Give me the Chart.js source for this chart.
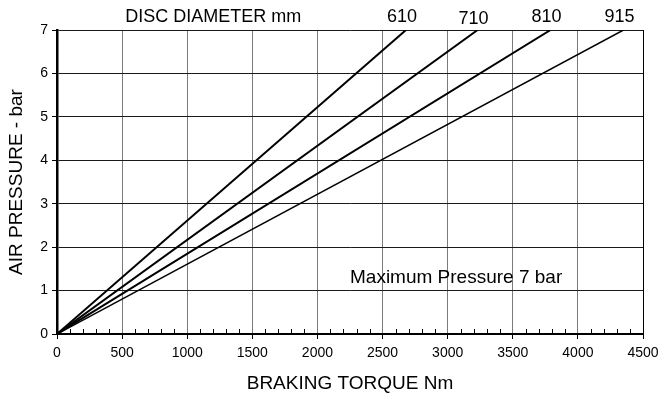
<!DOCTYPE html>
<html>
<head>
<meta charset="utf-8">
<title>Air pressure vs braking torque</title>
<script src="https://cdn.jsdelivr.net/npm/chart.js@4.4.1/dist/chart.umd.min.js"></script>
<style>
  body { margin: 0; background: #fff; }
  canvas { display: block; }
</style>
</head>
<body>
<canvas id="torque-chart" width="669" height="399"></canvas>
<script>
// --- Data ---
// each disc runs in a straight line from 0 to the torque it gives at 7 bar
const discDiameters = ['610', '710', '810', '915'];
const torqueAtMaxPressure = [2680, 3230, 3790, 4350];
const pressureRange = [0, 7];
const torqueTicks = [0, 500, 1000, 1500, 2000, 2500, 3000, 3500, 4000, 4500];
const pressureTicks = [0, 1, 2, 3, 4, 5, 6, 7];

// styles kept apart from the data
const lineWidths = [2, 2, 2, 1.5];
const FONT = 'Liberation Sans, Arial, Helvetica, sans-serif';

const datasets = discDiameters.map((d, i) => ({
  label: d,
  data: [
    { x: 0, y: pressureRange[0] },
    { x: torqueAtMaxPressure[i], y: pressureRange[1] }
  ],
  borderColor: '#000',
  borderWidth: lineWidths[i],
  pointRadius: 0,
  showLine: true,
  fill: false
}));

// little upward ticks every 100 Nm along the bottom axis
const minorTicks = {
  id: 'minorTicks',
  afterDraw(chart) {
    const { ctx, scales: { x }, chartArea } = chart;
    ctx.save();
    ctx.strokeStyle = '#000';
    ctx.lineWidth = 1;
    for (let v = x.min; v <= x.max; v += 100) {
      if (v % 500 === 0) continue;
      const px = Math.round(x.getPixelForValue(v)) + 0.5;
      ctx.beginPath();
      ctx.moveTo(px, chartArea.bottom);
      ctx.lineTo(px, chartArea.bottom - 5);
      ctx.stroke();
    }
    ctx.restore();
  }
};

// header, diameter labels and the max pressure note
const chartText = {
  id: 'chartText',
  afterDraw(chart) {
    const { ctx, scales: { x, y }, chartArea } = chart;
    ctx.save();
    ctx.fillStyle = '#000';
    ctx.textBaseline = 'middle';
    ctx.font = '18px ' + FONT;
    const headY = chartArea.top - 13;
    ctx.textAlign = 'center';
    ctx.fillText('DISC DIAMETER mm', x.getPixelForValue(1200), headY);
    discDiameters.forEach((d, i) => {
      const px = x.getPixelForValue(torqueAtMaxPressure[i]) - 4;
      ctx.fillText(d, px, headY + (i === 1 ? 2 : 0));
    });
    ctx.textAlign = 'left';
    ctx.font = '19px ' + FONT;
    ctx.fillText('Maximum Pressure 7 bar', x.getPixelForValue(2250), y.getPixelForValue(1.3));
    ctx.restore();
  }
};

new Chart(document.getElementById('torque-chart'), {
  type: 'scatter',
  data: { datasets },
  options: {
    responsive: false,
    animation: false,
    layout: { padding: { top: 30, right: 26, left: 0, bottom: 0 } },
    plugins: {
      legend: { display: false },
      tooltip: { enabled: false }
    },
    scales: {
      x: {
        type: 'linear',
        min: torqueTicks[0],
        max: torqueTicks[torqueTicks.length - 1],
        afterBuildTicks: s => { s.ticks = torqueTicks.map(v => ({ value: v })); },
        afterFit: s => { s.height = 65; },
        grid: {
          color: ctx => (ctx.tick && ctx.tick.value === 4500 ? '#000' : '#7a7a7a'),
          tickColor: '#000',
          tickLength: 5,
          lineWidth: 1
        },
        border: { color: '#000', width: 2 },
        ticks: {
          color: '#000',
          font: { family: FONT, size: 14 },
          padding: 6,
          maxRotation: 0,
          callback: v => String(v)
        },
        title: {
          display: true,
          text: 'BRAKING TORQUE Nm',
          color: '#000',
          font: { family: FONT, size: 19 },
          padding: { top: 0, bottom: 4 }
        }
      },
      y: {
        type: 'linear',
        min: pressureRange[0],
        max: pressureRange[1],
        afterBuildTicks: s => { s.ticks = pressureTicks.map(v => ({ value: v })); },
        afterFit: s => { s.width = 57; },
        grid: {
          color: '#1a1a1a',
          tickColor: '#000',
          tickLength: 5,
          lineWidth: 1
        },
        border: { color: '#000', width: 2.5 },
        ticks: {
          color: '#000',
          font: { family: FONT, size: 14 },
          padding: 4,
          callback: v => String(v)
        },
        title: {
          display: true,
          text: 'AIR PRESSURE - bar',
          color: '#000',
          font: { family: FONT, size: 19 },
          padding: { top: 5, bottom: 0 }
        }
      }
    }
  },
  plugins: [minorTicks, chartText]
});
</script>
</body>
</html>
